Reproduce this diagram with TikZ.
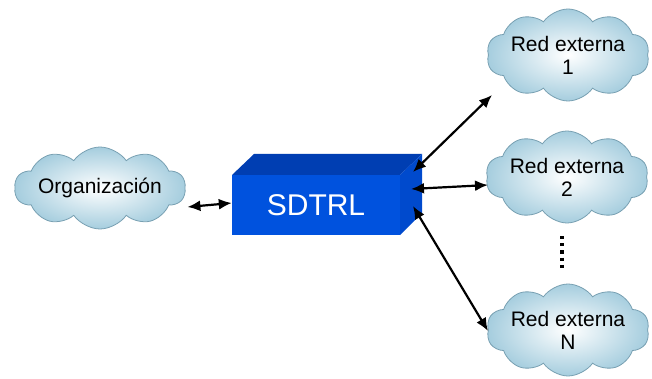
\documentclass[tikz,border=0pt]{standalone}
\usepackage{fontspec}
\setmainfont{Liberation Sans}
\usetikzlibrary{arrows.meta,shapes.symbols}

\definecolor{cloudedge}{RGB}{120,160,178}
\definecolor{cloudfill}{RGB}{165,205,222}
\definecolor{boxfront}{RGB}{0,82,222}
\definecolor{boxtop}{RGB}{0,62,178}
\definecolor{boxside}{RGB}{0,74,205}

\begin{document}
\begin{tikzpicture}[
  x=1pt, y=-1pt,
  font=\fontsize{21}{23}\selectfont,
  nube/.style={
    cloud, cloud puffs=10, cloud puff arc=110, cloud ignores aspect,
    draw=cloudedge, line width=0.8pt,
    inner color=white, outer color=cloudfill,
    align=center, inner sep=0pt,
    minimum width=162pt, minimum height=92pt
  },
  flecha/.style={{Latex[length=13pt,width=11pt]}-{Latex[length=13pt,width=11pt]}, line width=2.2pt, draw=black}
]
\useasboundingbox (0,0) rectangle (652,379);

% nubes
\node[nube, minimum width=168pt, minimum height=82pt] (org) at (100,188) {Organización};
\node[nube] (red1) at (568,55) {Red externa\\1};
\node[nube] (red2) at (567,177) {Red externa\\2};
\node[nube] (redn) at (568,330) {Red externa\\N};

% caja SDTRL
\fill[boxtop] (232,175) -- (254,154) -- (422,154) -- (400,175) -- cycle;
\fill[boxside] (400,175) -- (422,154) -- (422,213) -- (400,235) -- cycle;
\node[fill=boxfront, minimum width=168pt, minimum height=60pt, inner sep=0pt,
  text=white, font=\fontsize{30}{34}\selectfont] (sdtrl) at (316,205) {SDTRL};
\coordinate (s1) at (413,172);
\coordinate (s2) at (411,189);
\coordinate (s3) at (413,206);

% puntos
\coordinate (p1) at (562,236);
\coordinate (p2) at (562,270);
\draw[line width=3.2pt, dash pattern=on 3.2pt off 4pt] (p1) -- (p2);

% conexiones
\draw[flecha] (org.east |- sdtrl.west) ++(2,2) -- ([yshift=2pt]sdtrl.west);
\draw[flecha] (s1) -- (492,95);
\draw[flecha] (s2) -- (488,185);
\draw[flecha] (s3) -- (488,331);
\end{tikzpicture}
\end{document}
